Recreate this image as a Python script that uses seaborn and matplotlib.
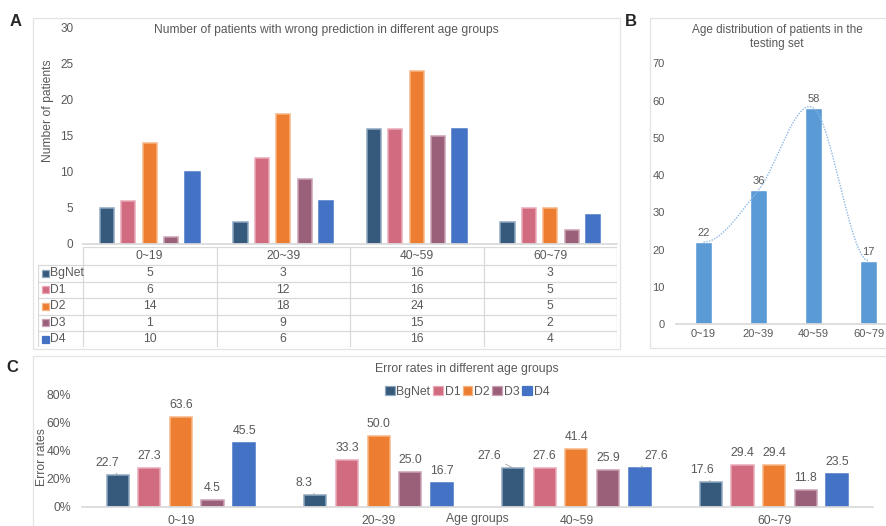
import numpy as np
import pandas as pd
import matplotlib
matplotlib.use('Agg')
import matplotlib.pyplot as plt
from matplotlib.patches import Rectangle, Patch
from matplotlib.path import Path
from matplotlib.patches import PathPatch
import seaborn as sns

# data
ages = ['0~19', '20~39', '40~59', '60~79']
models = ['BgNet', 'D1', 'D2', 'D3', 'D4']

wrong_bgnet = [5, 3, 16, 3]
wrong_d1 = [6, 12, 16, 5]
wrong_d2 = [14, 18, 24, 5]
wrong_d3 = [1, 9, 15, 2]
wrong_d4 = [10, 6, 16, 4]

test_counts = [22, 36, 58, 17]

err_bgnet = [22.7, 8.3, 27.6, 17.6]
err_d1 = [27.3, 33.3, 27.6, 29.4]
err_d2 = [63.6, 50.0, 41.4, 29.4]
err_d3 = [4.5, 25.0, 25.9, 11.8]
err_d4 = [45.5, 16.7, 27.6, 23.5]

fills = ['#355A7C', '#D06B80', '#ED7D31', '#9A6079', '#4472C4']
edges = ['#8FA8C0', '#EBA9B7', '#F8B584', '#C9A0B4', '#4472C4']
txt = '#595959'
grid_c = '#D9D9D9'

sns.set_theme(style='white')
plt.rcParams['font.family'] = ['Liberation Sans', 'DejaVu Sans']

W, H = 886, 526
fig = plt.figure(figsize=(W / 100, H / 100), dpi=100)


def box(l, t, r, b):
    return [l / W, 1 - b / H, (r - l) / W, (b - t) / H]


def frame(l, t, r, b):
    fig.patches.append(Rectangle((l / W, 1 - b / H), (r - l) / W, (b - t) / H,
                                 transform=fig.transFigure, fill=False,
                                 edgecolor='#E3E3E3', lw=0.9))


frame(33, 18, 620, 349)
frame(650, 18, 890, 348)
frame(33, 356, 890, 530)

wrong = pd.DataFrame({'age': ages * 5,
                      'model': np.repeat(models, 4),
                      'count': wrong_bgnet + wrong_d1 + wrong_d2 + wrong_d3 + wrong_d4})
errs = pd.DataFrame({'age': ages * 5,
                     'model': np.repeat(models, 4),
                     'rate': err_bgnet + err_d1 + err_d2 + err_d3 + err_d4})

# ---------------- panel A ----------------
axA = fig.add_axes(box(83, 28, 617, 244))
sns.barplot(data=wrong, x='age', y='count', hue='model', palette=fills, saturation=1,
            width=0.8, gap=0.34, legend=False, ax=axA)
for cont, ec in zip(axA.containers, edges):
    for p in cont:
        p.set_edgecolor(ec)
        p.set_linewidth(1.1)
axA.set_ylim(0, 30)
axA.set_xlim(-0.5, 3.5)
axA.set_yticks(range(0, 31, 5))
axA.set_xticks([])
axA.set_xlabel('')
axA.set_ylabel('Number of patients', fontsize=8.7, color=txt)
axA.yaxis.set_label_coords((54 - 83) / 534, (244 - 111) / 216)
axA.tick_params(axis='y', labelsize=8.5, labelcolor=txt, length=0, pad=7)
sns.despine(ax=axA, left=True, top=True, right=True)
axA.spines['bottom'].set_color(grid_c)
fig.text(326 / W, 1 - 30 / H, 'Number of patients with wrong prediction in different age groups',
         ha='center', va='center', fontsize=8.7, color=txt)

# table under panel A
axT = fig.add_axes(box(38, 247, 617, 347))
axT.set_xlim(-0.5 - 45 / 133.5, 3.5)
axT.set_ylim(347, 247)
axT.axis('off')
lx = -0.5 - 45 / 133.5
row_edges = [265, 281.5, 298, 314.5, 331, 347]
axT.plot([-0.5, 3.5], [247, 247], color=grid_c, lw=0.9)
for y in row_edges:
    axT.plot([lx, 3.5], [y, y], color=grid_c, lw=0.9)
axT.plot([lx, lx], [265, 347], color=grid_c, lw=0.9)
for x in np.arange(-0.5, 3.6, 1):
    axT.plot([x, x], [247, 347], color=grid_c, lw=0.9)
for i, a in enumerate(ages):
    axT.text(i, 256, a, ha='center', va='center', fontsize=8.7, color=txt)
table_rows = [wrong_bgnet, wrong_d1, wrong_d2, wrong_d3, wrong_d4]
for r, (name, vals) in enumerate(zip(models, table_rows)):
    yc = (row_edges[r] + row_edges[r + 1]) / 2
    sq = 7 / 133.5
    axT.add_patch(Rectangle((lx + 4 / 133.5, yc - 3.5), sq, 7,
                            facecolor=fills[r], edgecolor=edges[r], lw=0.9))
    axT.text(lx + 12 / 133.5, yc, name, ha='left', va='center', fontsize=8.7, color=txt)
    for i, v in enumerate(vals):
        axT.text(i, yc, str(v), ha='center', va='center', fontsize=8.7, color=txt)

# ---------------- panel B ----------------
axB = fig.add_axes(box(676, 63.3, 896, 324))
sns.barplot(x=ages, y=test_counts, color='#5B9BD5', width=0.31, saturation=1, ax=axB)
axB.bar_label(axB.containers[0], padding=3, fontsize=8, color=txt)
axB.set_ylim(0, 70)
axB.set_xlim(-0.5, 3.5)
axB.set_yticks(range(0, 71, 10))
axB.tick_params(axis='both', labelsize=8, labelcolor=txt, length=0)
axB.tick_params(axis='y', pad=8)
sns.despine(ax=axB, left=True, top=True, right=True)
axB.spines['bottom'].set_color(grid_c)

# smooth dotted trend through the bar tops (bezier through the points)
pts = np.column_stack([np.arange(len(test_counts)), test_counts]).astype(float)
ext = np.vstack([[-1, pts[1, 1]], pts, [len(pts), pts[-2, 1]]])
verts = [tuple(pts[0])]
codes = [Path.MOVETO]
for k in range(1, len(ext) - 2):
    p0, p1, p2, p3 = ext[k - 1], ext[k], ext[k + 1], ext[k + 2]
    c1 = p1 + (p2 - p0) / 6
    c2 = p2 - (p3 - p1) / 6
    verts += [tuple(c1), tuple(c2), tuple(p2)]
    codes += [Path.CURVE4] * 3
axB.add_patch(PathPatch(Path(verts, codes), fill=False, edgecolor='#8DB8E6',
                        lw=1.0, linestyle=(0, (1, 1))))
fig.text(777 / W, 1 - 37 / H, 'Age distribution of patients in the\ntesting set',
         ha='center', va='center', fontsize=8.5, color=txt, linespacing=1.25)

# ---------------- panel C ----------------
axC = fig.add_axes(box(82, 394.3, 873, 506.7))
sns.barplot(data=errs, x='age', y='rate', hue='model', palette=fills, saturation=1,
            width=0.8, gap=0.3, legend=False, ax=axC)
label_dx = {('BgNet', 0): -10, ('BgNet', 1): -11, ('BgNet', 2): -24,
            ('D4', 2): 17, ('BgNet', 3): -9}
for m, (cont, ec) in enumerate(zip(axC.containers, edges)):
    for i, p in enumerate(cont):
        p.set_edgecolor(ec)
        p.set_linewidth(1.1)
        h = p.get_height()
        xc = p.get_x() + p.get_width() / 2
        dx = label_dx.get((models[m], i), 0)
        arrow = dict(arrowstyle='-', color='#A6A6A6', lw=0.6, shrinkA=1, shrinkB=0) if dx else None
        axC.annotate(f'{h:.1f}', xy=(xc, h), xytext=(dx, 12), textcoords='offset pixels',
                     ha='center', va='center', fontsize=8.8, color=txt, arrowprops=arrow)
axC.set_ylim(0, 80)
axC.set_xlim(-0.5, 3.5)
axC.set_yticks(range(0, 81, 20))
axC.set_yticklabels([f'{v}%' for v in range(0, 81, 20)])
axC.set_xticks(range(4))
axC.set_xticks(np.arange(-0.5, 3.6, 1), minor=True)
axC.tick_params(axis='x', which='major', length=0, labelsize=8.8, labelcolor=txt, pad=6)
axC.tick_params(axis='x', which='minor', length=5, color=grid_c, width=0.9)
axC.tick_params(axis='y', labelsize=8.8, labelcolor=txt, length=0, pad=8)
axC.set_xlabel('')
axC.set_ylabel('Error rates', fontsize=8.8, color=txt)
axC.yaxis.set_label_coords((48 - 82) / 791, (506.7 - 457) / 112.4)
sns.despine(ax=axC, left=True, top=True, right=True)
axC.spines['bottom'].set_color(grid_c)
fig.text(477 / W, 1 - 519 / H, 'Age groups', ha='center', va='center', fontsize=8.8, color=txt)
fig.text(467 / W, 1 - 369 / H, 'Error rates in different age groups',
         ha='center', va='center', fontsize=8.8, color=txt)
handles = [Patch(facecolor=f, edgecolor=e, lw=0.9) for f, e in zip(fills, edges)]
fig.legend(handles, models, loc='center', bbox_to_anchor=(467 / W, 1 - 392 / H),
           ncol=5, frameon=False, fontsize=8.8, handlelength=0.8, handleheight=0.8,
           handletextpad=0.15, columnspacing=0.2, labelcolor=txt)

# panel letters
for s, x, y in [('A', 16, 22), ('B', 631, 22), ('C', 12, 367)]:
    fig.text(x / W, 1 - y / H, s, ha='center', va='center', fontsize=12, fontweight='bold')

fig.savefig('out.png', dpi=100)
